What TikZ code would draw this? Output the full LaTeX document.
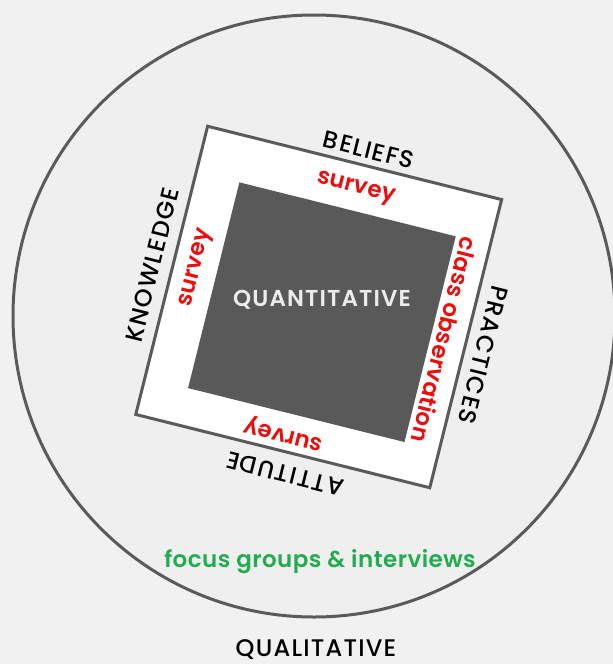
\documentclass[tikz,border=0pt]{standalone}
\usepackage{fontspec}
\setmainfont{Poppins}
\newfontfamily\medfont{Poppins Medium}
\newfontfamily\semifont{Poppins SemiBold}
\definecolor{bg}{RGB}{241,241,241}
\definecolor{circfill}{RGB}{239,239,239}
\definecolor{edge}{RGB}{90,90,90}
\definecolor{quant}{RGB}{89,89,89}
\definecolor{redtxt}{RGB}{240,10,10}
\definecolor{greentxt}{RGB}{34,172,80}
\definecolor{quanttxt}{RGB}{236,236,236}
\tikzset{
  dimlabel/.style={font=\medfont\fontsize{24}{24}\selectfont\addfontfeature{LetterSpace=6}, text=black, inner sep=0pt},
  methlabel/.style={font=\semifont\fontsize{23}{23}\selectfont\addfontfeature{LetterSpace=1}, text=redtxt, inner sep=0pt},
}
\begin{document}
\begin{tikzpicture}[x=1pt,y=-1pt]
\useasboundingbox (0,0) rectangle (613,664);
\fill[bg] (0,0) rectangle (613,664);
\begin{scope}
\clip (0,0) rectangle (613,664);
\node[circle, draw=edge, line width=3pt, fill=circfill, minimum size=602pt, inner sep=0pt] (qual) at (314,316) {};
\end{scope}
\node[draw=edge, line width=3pt, fill=white, minimum width=303pt, minimum height=297pt, rotate=-14, inner sep=0pt] (frame) at (318.7,307) {};
\node[fill=quant, minimum width=223pt, minimum height=212pt, rotate=-14, inner sep=0pt] (core) at (321.9,312.2) {};
\node[font=\semifont\fontsize{23}{23}\selectfont\addfontfeature{LetterSpace=5}, text=quanttxt, inner sep=0pt] (qt) at (322,300) {QUANTITATIVE};
\node[dimlabel, rotate=-14] (beliefs) at (369,150) {BELIEFS};
\node[methlabel, rotate=-14] (s1) at (355.7,189) {survey};
\node[dimlabel, rotate=76] (know) at (152.3,265) {KNOWLEDGE};
\node[methlabel, rotate=76] (s2) at (196.7,268.3) {survey};
\node[methlabel, rotate=-104] (obs) at (445,340) {class observation};
\node[dimlabel, rotate=-104] (prac) at (483,355) {PRACTICES};
\node[methlabel, rotate=166] (s3) at (284,433) {survey};
\node[dimlabel, rotate=166] (att) at (285,474) {ATTITUDE};
\node[font=\semifont\fontsize{23}{23}\selectfont\addfontfeature{LetterSpace=2}, text=greentxt, inner sep=0pt] (focus) at (320,561.7) {focus groups \& interviews};
\node[font=\medfont\fontsize{24}{24}\selectfont\addfontfeature{LetterSpace=5}, inner sep=0pt, text height=17pt, text depth=0pt] (qualtxt) at (316,648) {QUALITATIVE};
\end{tikzpicture}
\end{document}
